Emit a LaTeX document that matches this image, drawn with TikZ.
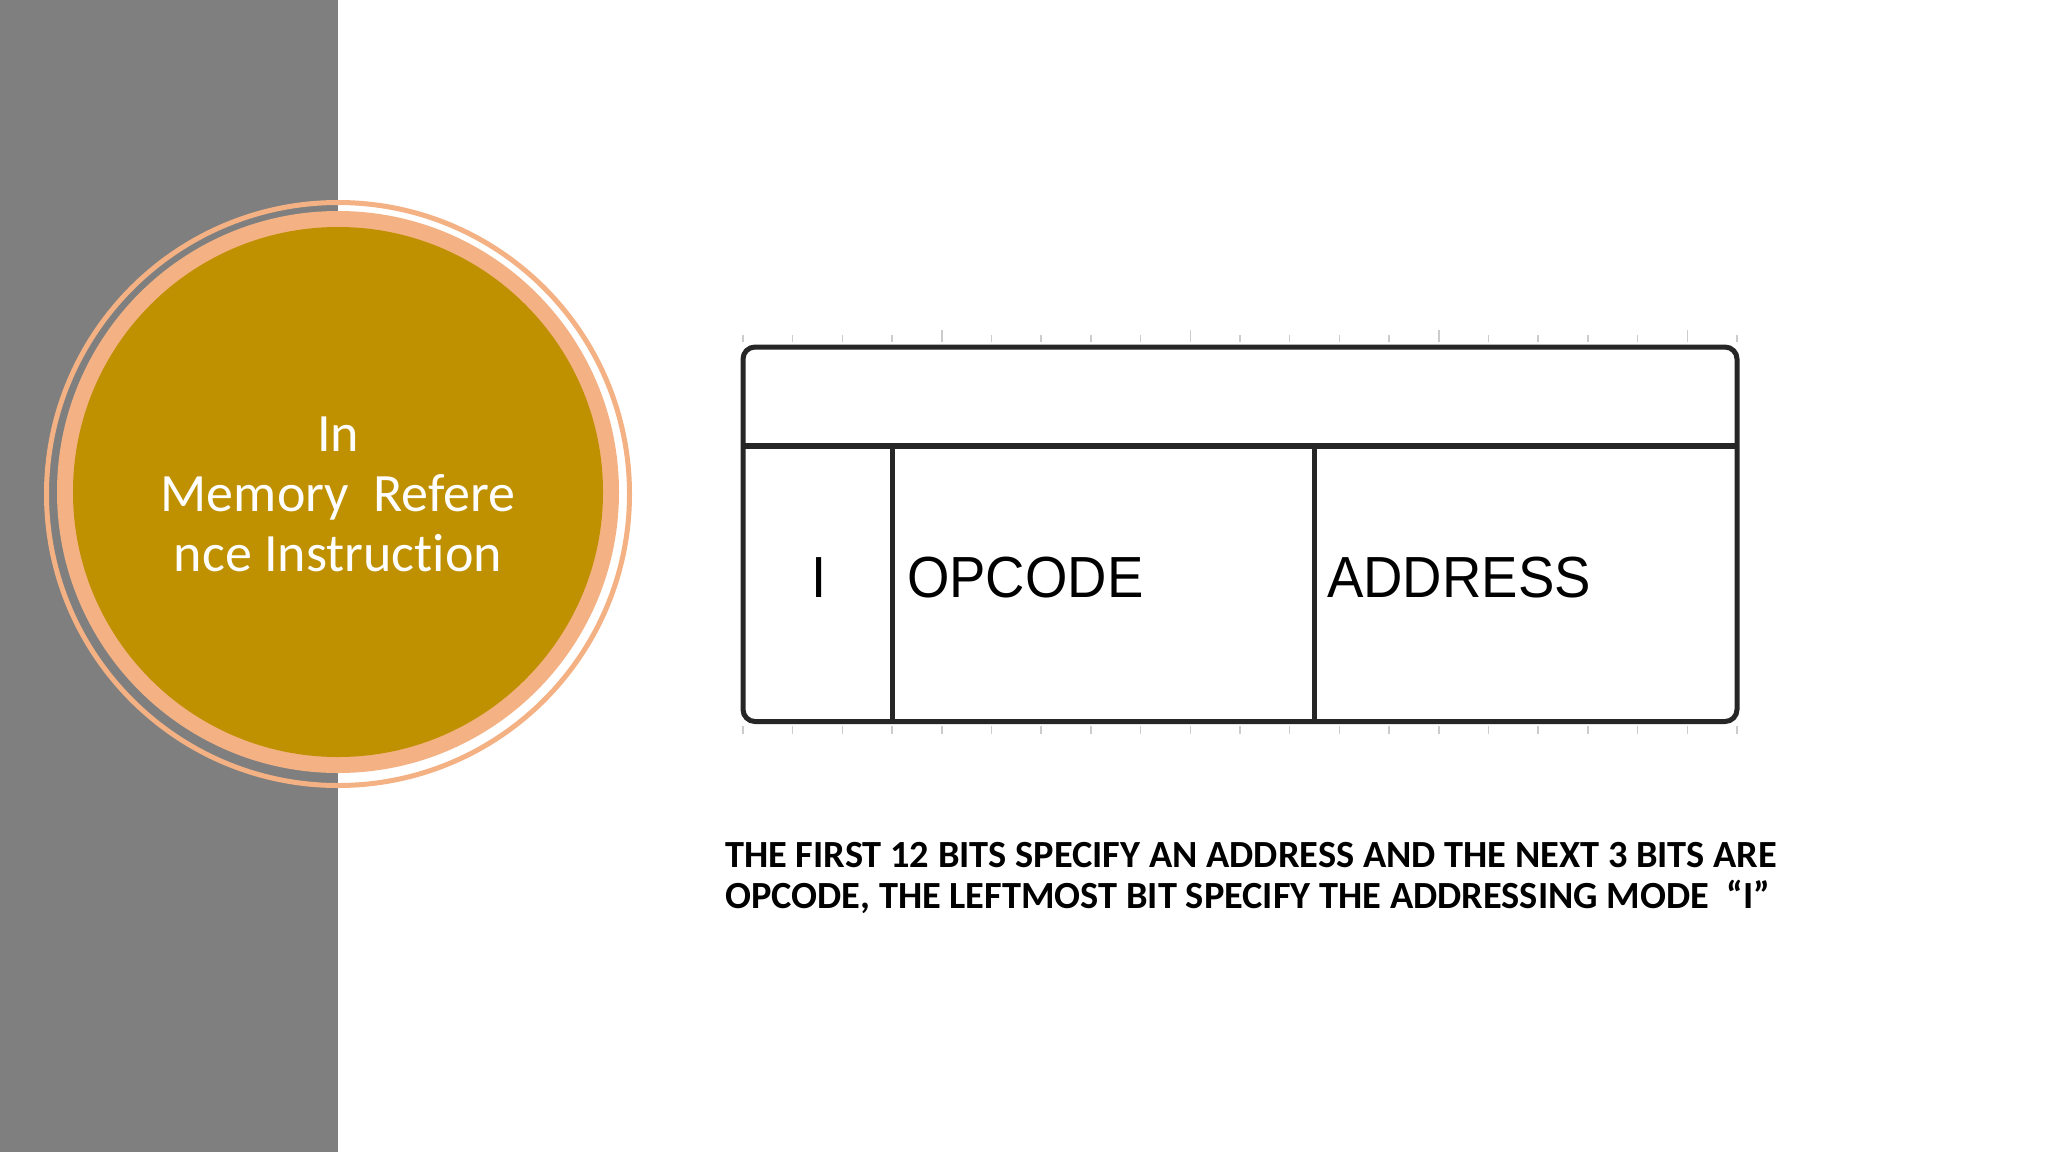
\documentclass[tikz,border=0pt]{standalone}
\usepackage{fontspec}
\setmainfont[Ligatures=NoCommon]{Carlito}
\newfontfamily\arialf{Liberation Sans}
\definecolor{bandgray}{HTML}{7F7F7F}
\definecolor{peach}{HTML}{F4B183}
\definecolor{gold}{HTML}{BF9000}
\definecolor{boxline}{HTML}{262626}
\definecolor{tickgray}{HTML}{CCCCCC}
\tikzset{
  titletext/.style={text=white, inner sep=0pt, anchor=base, font=\fontsize{54}{62}\selectfont},
  celltext/.style={text=black, inner sep=0pt, anchor=base west, xscale=0.94, transform shape, font=\arialf\fontsize{58}{60}\selectfont},
  notetext/.style={text=black, inner sep=0pt, anchor=base west, font=\bfseries\fontsize{38.4}{42}\selectfont},
  boxframe/.style={draw=boxline, line width=5pt},
  tickmark/.style={draw=tickgray, line width=1.5pt}
}
\begin{document}
\begin{tikzpicture}[x=1pt,y=-1pt]
\useasboundingbox (0,0) rectangle (2048,1152);
\fill[white] (0,0) rectangle (2048,1152);
\fill[bandgray] (0,0) rectangle (338,1152);
% circle
\draw[peach, line width=5pt] (338,494) circle[radius=291.5pt];
\fill[peach] (338,492) circle[radius=281pt];
\fill[gold] (338,492) circle[radius=265pt];
\node[titletext] (t1) at (338,451) {In};
\node[titletext] (t2) at (338,511) {Memory\ \ Refere};
\node[titletext] (t3) at (338,571) {nce Instruction};
% ticks
\foreach \i in {0,...,20} {
  \pgfmathsetmacro{\xx}{743+\i*49.7}
  \ifnum\i=4 \def\tl{330}\else\ifnum\i=9 \def\tl{330}\else\ifnum\i=14 \def\tl{330}\else\ifnum\i=19 \def\tl{330}\else\def\tl{335}\fi\fi\fi\fi
  \draw[tickmark] (\xx,\tl) -- (\xx,342);
  \draw[tickmark] (\xx,726) -- (\xx,734);
}
% box
\draw[boxframe, rounded corners=12pt] (743,347) rectangle (1737,721.5);
\draw[boxframe, line width=6pt] (743,446) -- (1737,446);
\draw[boxframe] (892.5,446) -- (892.5,721.5);
\draw[boxframe] (1314,446) -- (1314,721.5);
\node[celltext, anchor=base] (ci) at (819,597) {I};
\node[celltext] (co) at (907,597) {OPCODE};
\node[celltext] (ca) at (1327,597) {ADDRESS};
% note
\node[notetext] (n1) at (725,867) {THE FIRST 12 BITS SPECIFY AN ADDRESS AND THE NEXT 3 BITS ARE};
\node[notetext] (n2) at (725,908) {OPCODE, THE LEFTMOST BIT SPECIFY THE ADDRESSING MODE\ \ “I”};
\end{tikzpicture}
\end{document}
